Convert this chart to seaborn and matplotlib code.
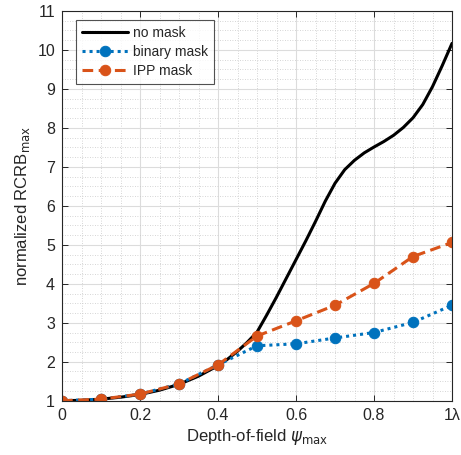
import numpy as np
import pandas as pd
import matplotlib
matplotlib.use("Agg")
import matplotlib.pyplot as plt
import seaborn as sns
from matplotlib.ticker import MultipleLocator

# -------------------------------
# data
# -------------------------------
dof_curve = [0.0, 0.05, 0.1, 0.15, 0.2, 0.25, 0.3, 0.35, 0.4, 0.425, 0.45, 0.475,
             0.5, 0.525, 0.55, 0.575, 0.6, 0.625, 0.65, 0.675, 0.7, 0.725, 0.75,
             0.775, 0.8, 0.825, 0.85, 0.875, 0.9, 0.925, 0.95, 0.975, 1.0]
no_mask = [1.0, 1.01, 1.04, 1.09, 1.16, 1.27, 1.42, 1.63, 1.90, 2.07, 2.27, 2.50,
           2.76, 3.20, 3.66, 4.14, 4.62, 5.10, 5.60, 6.12, 6.58, 6.93, 7.17,
           7.36, 7.51, 7.65, 7.81, 8.01, 8.26, 8.60, 9.06, 9.60, 10.17]

dof_pts = [0.0, 0.1, 0.2, 0.3, 0.4, 0.5, 0.6, 0.7, 0.8, 0.9, 1.0]
binary_mask = [1.0, 1.04, 1.17, 1.43, 1.92, 2.41, 2.46, 2.61, 2.75, 3.01, 3.45]
ipp_mask = [1.0, 1.04, 1.17, 1.43, 1.92, 2.66, 3.05, 3.45, 4.01, 4.70, 5.06]

x_ticks = [0, 0.2, 0.4, 0.6, 0.8, 1.0]
x_ticklabels = ["0", "0.2", "0.4", "0.6", "0.8", "1λ"]

# -------------------------------
# style
# -------------------------------
sns.set_theme(style="white")
plt.rcParams["font.family"] = ["Liberation Sans", "DejaVu Sans"]
plt.rcParams["mathtext.fontset"] = "dejavusans"

axis_grey = "#262626"
blue = "#0072BD"
orange = "#D95319"

fig = plt.figure(figsize=(4.61, 4.55), dpi=100)
ax = fig.add_axes([0.1345, 0.1193, 0.846, 0.8565])

curve_df = pd.DataFrame({"x": dof_curve, "y": no_mask})
pts_df = pd.DataFrame({"x": dof_pts, "binary": binary_mask, "ipp": ipp_mask})

sns.lineplot(data=curve_df, x="x", y="y", ax=ax, color="black", lw=2.2,
             label="no mask", sort=False)
sns.lineplot(data=pts_df, x="x", y="binary", ax=ax, color=blue, lw=2.2,
             linestyle=(0, (1, 1.3)), marker="o", markersize=7.5,
             markeredgecolor=blue, label="binary mask", sort=False)
sns.lineplot(data=pts_df, x="x", y="ipp", ax=ax, color=orange, lw=2.2,
             linestyle=(0, (3.5, 1.8)), marker="o", markersize=7.5,
             markeredgecolor=orange, label="IPP mask", sort=False)

ax.set_xlim(0, 1)
ax.set_ylim(1, 11)
ax.set_xticks(x_ticks)
ax.set_xticklabels(x_ticklabels)
ax.set_yticks(range(1, 12))
ax.xaxis.set_minor_locator(MultipleLocator(0.05))
ax.yaxis.set_minor_locator(MultipleLocator(0.25))

ax.grid(True, which="major", color="#dcdcdc", lw=0.8, ls="-")
ax.grid(True, which="minor", color="#c8c8c8", lw=0.6, ls=(0, (1, 2)))
ax.set_axisbelow(True)

ax.tick_params(which="major", direction="in", length=4, width=0.7,
               colors=axis_grey, labelsize=11.5, top=True, right=True,
               bottom=True, left=True, pad=5)
ax.tick_params(which="minor", length=0)
for s in ax.spines.values():
    s.set_color(axis_grey)
    s.set_linewidth(0.8)

ax.set_xlabel(r"Depth-of-field $\psi_{\mathrm{max}}$", fontsize=12,
              color=axis_grey, labelpad=3)
ax.set_ylabel(r"normalized RCRB$_{\mathrm{max}}$", fontsize=12,
              color=axis_grey, labelpad=4)

leg = ax.legend(loc="upper left", bbox_to_anchor=(0.028, 0.985), fontsize=10,
                frameon=True, fancybox=False, edgecolor=axis_grey,
                handlelength=3.3, borderpad=0.45, labelspacing=0.35,
                handletextpad=0.35, borderaxespad=0.2)
leg.get_frame().set_linewidth(0.8)

fig.savefig("out.png", dpi=100)
